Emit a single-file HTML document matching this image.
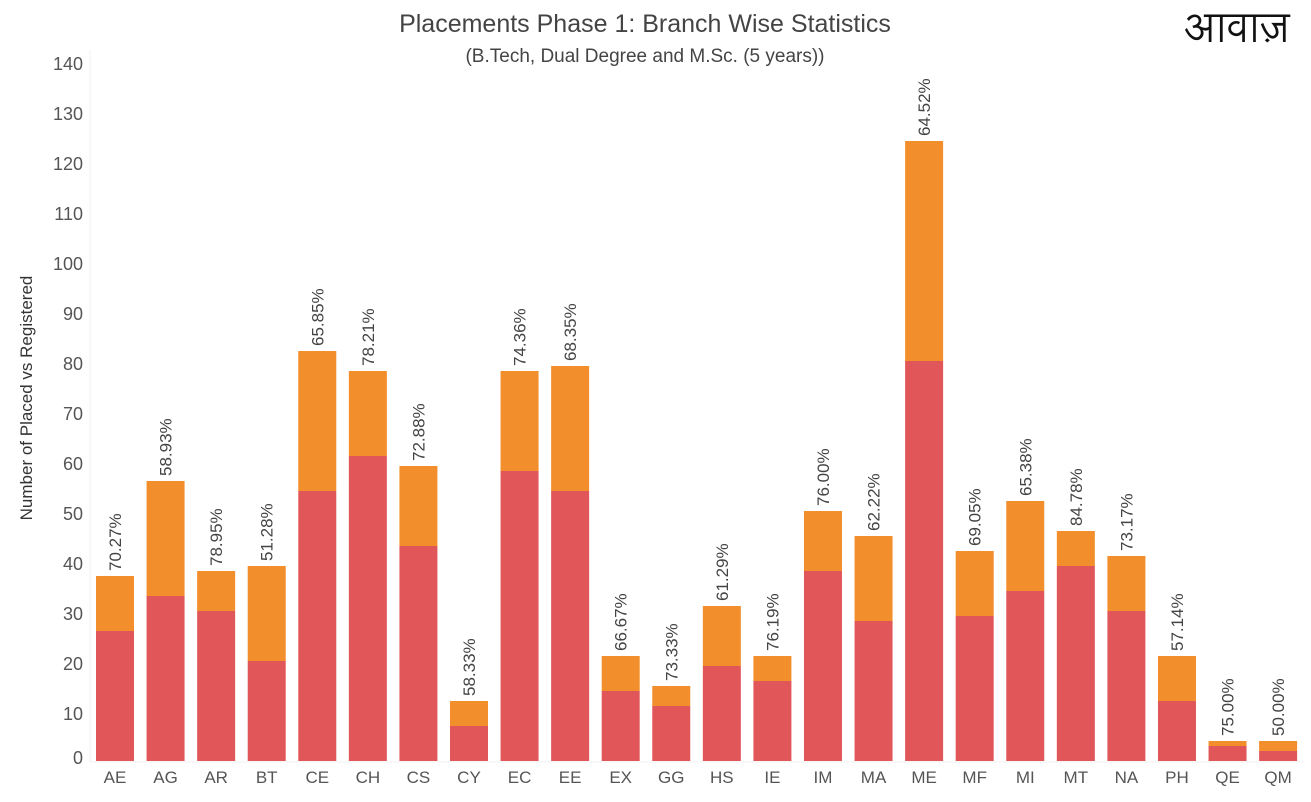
<!DOCTYPE html>
<html><head><meta charset="utf-8"><style>
body{margin:0;background:#fff;width:1311px;height:797px;overflow:hidden;font-family:"Liberation Sans",sans-serif}
</style></head><body>
<svg id="c" width="1311" height="797" xmlns="http://www.w3.org/2000/svg">
<text x="645" y="32" text-anchor="middle" font-size="25" fill="#444">Placements Phase 1: Branch Wise Statistics</text>
<text x="645" y="62" text-anchor="middle" font-size="19" fill="#444">(B.Tech, Dual Degree and M.Sc. (5 years))</text>
<text x="1237" y="42" text-anchor="middle" font-size="42" fill="#111" font-family="'Lohit Devanagari','FreeSans','DejaVu Sans',sans-serif">आवाज़</text>
<text transform="translate(32,398) rotate(-90)" text-anchor="middle" font-size="17" fill="#333">Number of Placed vs Registered</text>
<line x1="90" y1="50" x2="90" y2="762" stroke="#f0f0f0"/>
<line x1="90" y1="762" x2="1305" y2="762" stroke="#f0f0f0"/>
<g id="bars"></g>
</svg>
<script>
const categories=["AE","AG","AR","BT","CE","CH","CS","CY","EC","EE","EX","GG","HS","IE","IM","MA","ME","MF","MI","MT","NA","PH","QE","QM"];
const placed=[26,33,30,20,54,61,43,7,58,54,14,11,19,16,38,28,80,29,34,39,30,12,3,2];
const registered=[37,56,38,39,82,78,59,12,78,79,21,15,31,21,50,45,124,42,52,46,41,21,4,4];
const yTicks=[0,10,20,30,40,50,60,70,80,90,100,110,120,130,140];
const NS="http://www.w3.org/2000/svg";
const svg=document.getElementById('c'), g=document.getElementById('bars');
const y=v=>761-v*5;
const xc=i=>115+i*50.57;
const bw=38;
function mk(tag,attrs,parent){const e=document.createElementNS(NS,tag);for(const k in attrs)e.setAttribute(k,attrs[k]);(parent||g).appendChild(e);return e;}
yTicks.forEach(t=>{
  const e=mk('text',{x:83,y:(t===0?y(t)-6:y(t))+9,'text-anchor':'end','font-size':18,fill:'#555'},svg);
  e.textContent=t;
  
  
});
categories.forEach((c,i)=>{
  const x=xc(i)-bw/2;
  const r=mk('rect',{x:x,y:y(registered[i]),width:bw,height:(registered[i]-placed[i])*5,fill:'#f28e2b'});
  
  
  const p=mk('rect',{x:x,y:y(placed[i]),width:bw,height:placed[i]*5,fill:'#e15759'});
  
  
  const ty=y(registered[i])-5, tx=xc(i)+6;
  const l=mk('text',{x:tx,y:ty,transform:`rotate(-90 ${tx} ${ty})`,'font-size':17,fill:'#444'});
  l.textContent=(placed[i]/registered[i]*100).toFixed(2)+'%';
  
  
  const xl=mk('text',{x:xc(i),y:783,'text-anchor':'middle','font-size':17,fill:'#555'});
  xl.textContent=c;
  
  
});
</script>
</body></html>
